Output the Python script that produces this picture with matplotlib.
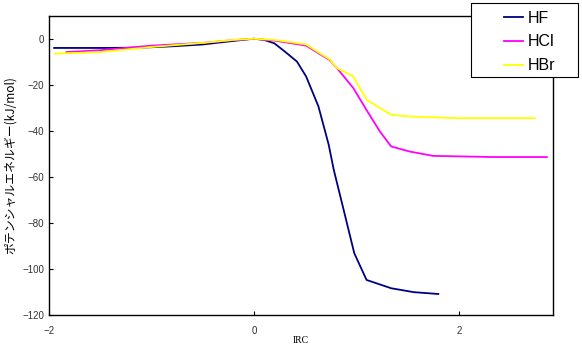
import matplotlib
matplotlib.use("Agg")
import matplotlib.pyplot as plt
from matplotlib.patches import Rectangle

plt.rcParams['font.family'] = ['Liberation Sans', 'Noto Sans CJK JP', 'DejaVu Sans']

# IRC vs potential energy (kJ/mol)
hf_x = [-1.95, -1.5, -1.1, -0.8, -0.5, -0.25, 0.0, 0.1, 0.2, 0.3, 0.42, 0.51,
        0.63, 0.73, 0.78, 0.86, 0.98, 1.1, 1.34, 1.56, 1.8]
hf_y = [-4.0, -4.0, -3.9, -3.3, -2.5, -1.2, 0.0, -0.5, -2.0, -5.5, -9.9, -16.4,
        -29.4, -46.0, -57.0, -71.4, -93.2, -104.8, -108.4, -110.1, -110.9]

hcl_x = [-1.83, -1.5, -1.0, -0.5, -0.2, 0.0, 0.2, 0.51, 0.74, 0.81, 0.97, 1.1,
         1.23, 1.34, 1.52, 1.75, 2.34, 2.86]
hcl_y = [-5.8, -5.0, -3.0, -1.8, -0.6, 0.0, -0.8, -3.0, -9.3, -12.7, -21.4, -31.0,
         -40.3, -46.8, -49.0, -50.9, -51.4, -51.4]

hbr_x = [-1.94, -1.5, -1.0, -0.5, -0.2, 0.0, 0.2, 0.51, 0.74, 0.81, 0.97, 1.1,
         1.23, 1.34, 1.52, 1.98, 2.74]
hbr_y = [-6.5, -5.8, -3.6, -1.8, -0.5, 0.0, -0.5, -2.5, -9.0, -12.7, -16.4, -26.5,
         -30.1, -33.0, -33.8, -34.5, -34.5]

labels = ['HF', 'HCl', 'HBr']
colors = ['#000080', '#FF00FF', '#FFFF00']

fig = plt.figure(figsize=(5.82, 3.62), dpi=100)
ax = fig.add_axes([0.0842, 0.130, 0.866, 0.8266])

for xs, ys, lab, c in zip([hf_x, hcl_x, hbr_x], [hf_y, hcl_y, hbr_y], labels, colors):
    ax.plot(xs, ys, color=c, lw=1.3, label=lab)

ax.set_xlim(-2, 2.92)
ax.set_ylim(-120, 10)
ax.set_xticks([-2, 0, 2])
ax.set_yticks(range(-120, 1, 20))
ax.tick_params(direction='in', length=3, width=0.8, labelsize=7, labelcolor='#333333')
ax.tick_params(axis='x', pad=8)
for s in ax.spines.values():
    s.set_linewidth(1.0)
    s.set_color('black')

ax.set_xlabel('IRC', fontsize=7, family=['Liberation Serif'], labelpad=0)
ax.set_ylabel('ポテンシャルエネルギー(kJ/mol)', fontsize=8.6,
              family=['Noto Sans CJK JP', 'DejaVu Sans'], labelpad=4)

# legend box sits over the top right corner of the plot
box = Rectangle((471 / 582, 1 - 77 / 362), 107 / 582, 74 / 362, transform=fig.transFigure,
                facecolor='white', edgecolor='black', lw=0.8, zorder=5)
fig.patches.append(box)
leg = fig.legend(loc='center', bbox_to_anchor=(0.910, 0.884), fontsize=11.5,
                 frameon=False, handlelength=1.2, handletextpad=0.3,
                 labelspacing=0.55, borderpad=0, borderaxespad=0)
leg.set_zorder(6)

fig.savefig('out.png', dpi=100)
